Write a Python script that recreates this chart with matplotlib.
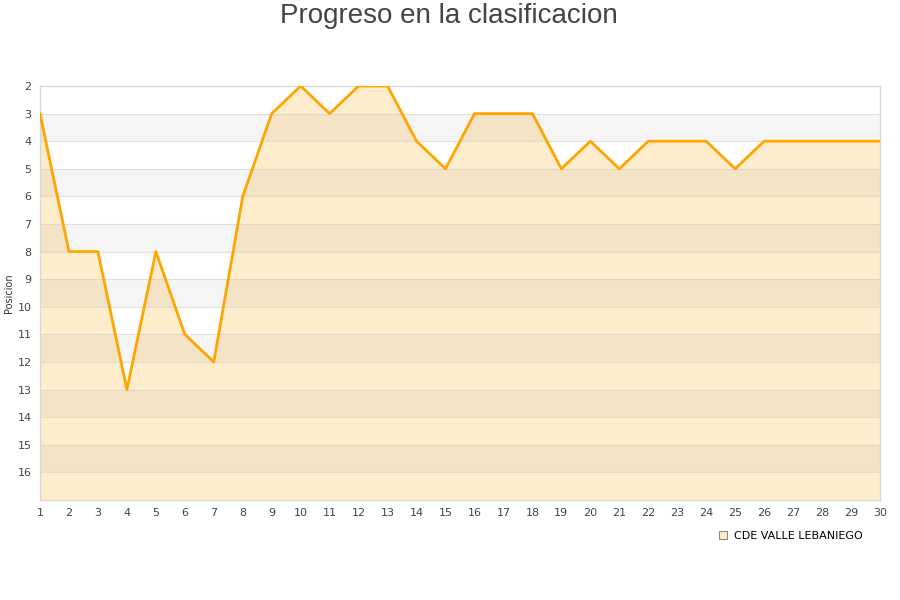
import matplotlib
matplotlib.use("Agg")
import matplotlib.pyplot as plt
from matplotlib.lines import Line2D

jornadas = list(range(1, 31))
posiciones = [3, 8, 8, 13, 8, 11, 12, 6, 3, 2, 3, 2, 2, 4, 5, 3, 3, 3, 5, 4,
              5, 4, 4, 4, 5, 4, 4, 4, 4, 4]
equipo = "CDE VALLE LEBANIEGO"
titulo = "Progreso en la clasificacion"
ylab = "Posicion"
yticks = list(range(2, 17))

fig = plt.figure(figsize=(9, 6), dpi=100)
ax = fig.add_axes([40/900, 100/600, 840/900, 414/600])

ymin, ymax = 2, 17
# bands
for k in range(3, 17, 2):
    ax.axhspan(k, k + 1, color="black", alpha=0.04, lw=0, zorder=2)
for k in range(3, 17):
    ax.axhline(k, color="#d0d0d0", lw=0.8, alpha=0.6, zorder=2.5)

ax.fill_between(jornadas, posiciones, ymax, color="#feedcc", lw=0, zorder=1)
ax.plot(jornadas, posiciones, color="#ffa500", lw=2.0, zorder=3)

ax.set_xlim(1, 30)
ax.set_ylim(ymax, ymin)
ax.set_xticks(jornadas)
ax.set_yticks(yticks)
ax.tick_params(length=0, labelsize=8, colors="#444444", pad=6)
for s in ax.spines.values():
    s.set_color("#d8d8d8")
    s.set_linewidth(1)
ax.set_ylabel(ylab, fontsize=7, color="#333333")
ax.yaxis.set_label_coords(-26/840, 0.5)

fig.text(449/900, 1 - 16/600, titulo, ha="center", va="center", fontsize=20,
         color="#444444", family=["Liberation Sans", "DejaVu Sans"])

handle = Line2D([], [], marker="s", linestyle="none", markersize=6,
                markerfacecolor="#feedcc", markeredgecolor="#888888", markeredgewidth=0.8)
fig.legend([handle], [equipo], loc="center", bbox_to_anchor=(790/900, 1 - 536/600),
           frameon=False, fontsize=8, handletextpad=0.5, handlelength=1)

fig.savefig("out.png", dpi=100)
